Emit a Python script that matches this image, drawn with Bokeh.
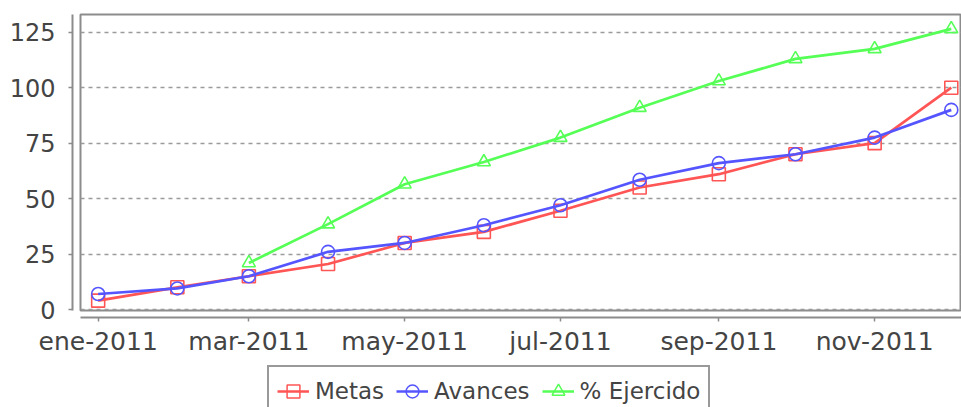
from datetime import datetime
import math
import pandas as pd
from bokeh.plotting import figure
from bokeh.layouts import column
from bokeh.models import (Range1d, LinearAxis, DatetimeAxis, FixedTicker,
                          Legend, LegendItem, ColumnDataSource)
from bokeh.embed import file_html
from bokeh.resources import INLINE

# ---- data -------------------------------------------------------------
months = ["2011-01-01", "2011-02-01", "2011-03-01", "2011-04-01", "2011-05-01", "2011-06-01",
          "2011-07-01", "2011-08-01", "2011-09-01", "2011-10-01", "2011-11-01", "2011-12-01"]
metas = [4, 10, 15, 20.5, 30, 35, 44.5, 55, 61, 70, 75, 100]
avances = [7, 9.5, 15, 26, 30, 38, 47, 58.5, 66, 70, 77.5, 90]
ejercido = [math.nan, math.nan, 21, 38.5, 56.5, 66.5, 77.5, 91, 103, 113, 117.5, 126.5]
series_names = ["Metas", "Avances", "% Ejercido"]
x_tick_dates = ["2011-01-01", "2011-03-01", "2011-05-01", "2011-07-01", "2011-09-01", "2011-11-01"]
x_tick_labels = ["ene-2011", "mar-2011", "may-2011", "jul-2011", "sep-2011", "nov-2011"]
y_ticks = [0, 25, 50, 75, 100, 125]

# ---- styles -----------------------------------------------------------
colors = ["#FF5555", "#5555FF", "#55FF55"]
markers = ["square", "circle", "triangle"]
FONT = "DejaVu Sans"
TXT = "#444444"
AXC = "#8c8c8c"


def ms(s):
    return pd.Timestamp(s).value // 10**6


x_ms = [ms(d) for d in months]
tick_ms = [ms(d) for d in x_tick_dates]
cols = ["metas", "avances", "ejercido"]

p = figure(width=961, height=363, x_axis_type="datetime",
           x_range=Range1d(ms("2010-12-25 02:00"), ms("2011-12-05 00:00")),
           y_range=Range1d(-0.45, 133.0),
           output_backend="svg", toolbar_location=None,
           min_border_left=80, min_border_right=0, min_border_top=14, min_border_bottom=53,
           background_fill_color="white", border_fill_color="white")

p.outline_line_color = AXC
p.outline_line_width = 2

# primary axes: invisible spacers that offset the visible axes from the plot border
for ax, off, tk in ((p.below[0], 7, tick_ms), (p.left[0], 8, y_ticks)):
    ax.ticker = FixedTicker(ticks=tk)
    ax.axis_line_color = None
    ax.major_tick_line_color = None
    ax.minor_tick_line_color = None
    ax.major_label_text_color = None
    ax.major_label_text_font_size = "0px"
    ax.major_label_standoff = 0
    ax.major_tick_in = 0
    ax.major_tick_out = off
    ax.minor_tick_out = 0

yax = LinearAxis(ticker=FixedTicker(ticks=y_ticks))
xax = DatetimeAxis(ticker=FixedTicker(ticks=tick_ms),
                   major_label_overrides={t: l for t, l in zip(tick_ms, x_tick_labels)})
for ax in (yax, xax):
    ax.axis_line_color = AXC
    ax.axis_line_width = 2
    ax.major_tick_line_color = AXC
    ax.major_tick_line_width = 1.5
    ax.major_tick_in = 0
    ax.major_tick_out = 4
    ax.minor_tick_line_color = None
    ax.major_label_text_font = FONT
    ax.major_label_text_color = TXT
yax.major_label_text_font_size = "24px"
xax.major_label_text_font_size = "25px"
yax.major_label_standoff = 13
xax.major_label_standoff = 5
p.add_layout(yax, "left")
p.add_layout(xax, "below")

p.xgrid.visible = False
p.ygrid.ticker = FixedTicker(ticks=y_ticks)
p.ygrid.grid_line_color = "#9a9a9a"
p.ygrid.grid_line_dash = "4 4"
p.ygrid.grid_line_width = 1.5

src = ColumnDataSource(dict(x=x_ms, metas=metas, avances=avances, ejercido=ejercido))
for col, color, marker in zip(cols, colors, markers):
    p.line("x", col, source=src, line_color=color, line_width=2.7)
    p.scatter("x", col, source=src, marker=marker, size=13, line_color=color,
              line_width=1.6, fill_color=None)

# ---- legend strip below the chart -------------------------------------
# its renderers use the same data but lie outside this strip's ranges, so only
# the legend itself shows
lf = figure(width=961, height=44, output_backend="svg", toolbar_location=None,
            x_range=Range1d(0, 1), y_range=Range1d(0, 1),
            x_axis_location=None, y_axis_location=None,
            min_border=0, background_fill_color="white", border_fill_color="white",
            outline_line_color=None)
lf.grid.visible = False
items = []
for name, col, color, marker in zip(series_names, cols, colors, markers):
    lr = lf.line("x", col, source=src, line_color=color, line_width=2.5)
    sr = lf.scatter("x", col, source=src, marker=marker, size=12, line_color=color,
                    line_width=1.5, fill_color=None)
    items.append(LegendItem(label=name, renderers=[lr, sr]))

legend = Legend(items=items, orientation="horizontal", location=(187, -10),
                border_line_color="#333333", border_line_width=2,
                background_fill_color="white", background_fill_alpha=1.0,
                label_text_font=FONT, label_text_font_size="23px", label_text_color=TXT,
                glyph_width=32, glyph_height=32, label_height=32, label_standoff=6,
                spacing=12, padding=8, margin=0)
lf.add_layout(legend, "center")

open("out.html", "w").write(file_html(column(p, lf), INLINE))
